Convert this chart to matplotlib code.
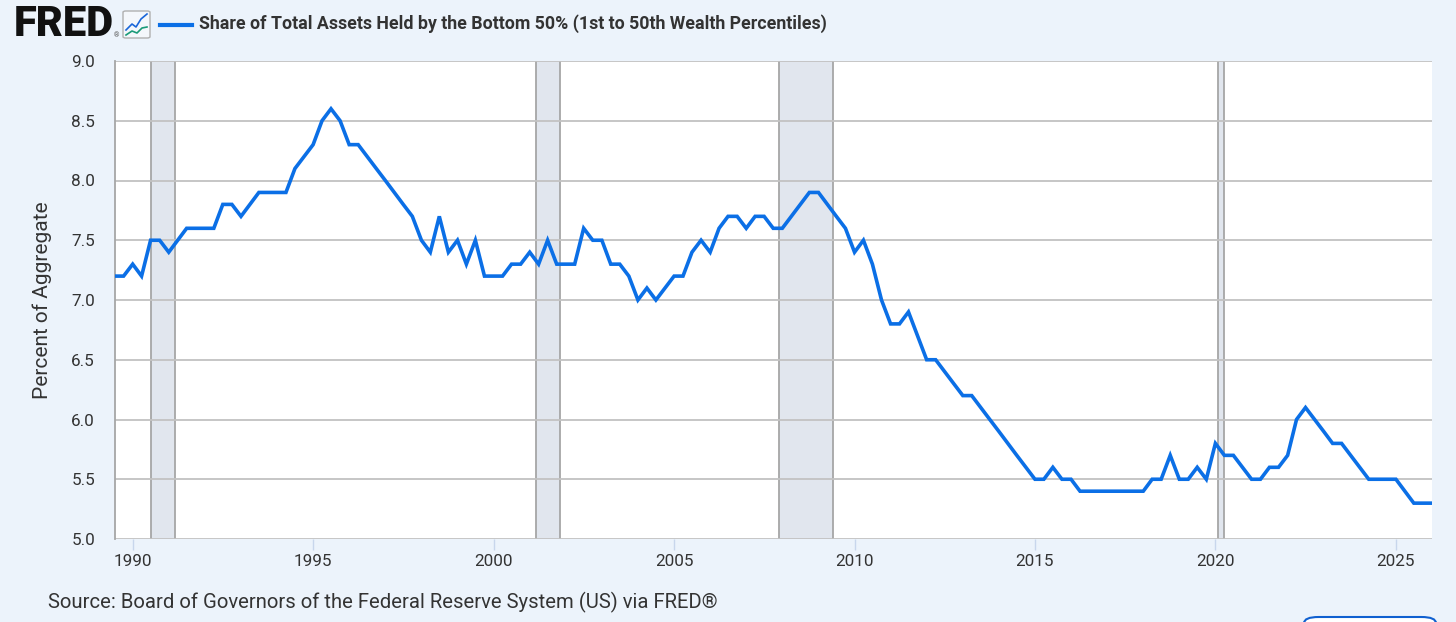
import numpy as np
import pandas as pd
import matplotlib as mpl
mpl.use("Agg")
import matplotlib.pyplot as plt
from matplotlib.patches import FancyBboxPatch
from matplotlib.lines import Line2D

# quarterly share of total assets, bottom 50%, starting 1989Q3
share = [7.2, 7.2,
         7.3, 7.2, 7.5, 7.5,   # 1990
         7.4, 7.5, 7.6, 7.6,
         7.6, 7.6, 7.8, 7.8,
         7.7, 7.8, 7.9, 7.9,
         7.9, 7.9, 8.1, 8.2,
         8.3, 8.5, 8.6, 8.5,   # 1995
         8.3, 8.3, 8.2, 8.1,
         8.0, 7.9, 7.8, 7.7,
         7.5, 7.4, 7.7, 7.4,
         7.5, 7.3, 7.5, 7.2,
         7.2, 7.2, 7.3, 7.3,   # 2000
         7.4, 7.3, 7.5, 7.3,
         7.3, 7.3, 7.6, 7.5,
         7.5, 7.3, 7.3, 7.2,
         7.0, 7.1, 7.0, 7.1,
         7.2, 7.2, 7.4, 7.5,   # 2005
         7.4, 7.6, 7.7, 7.7,
         7.6, 7.7, 7.7, 7.6,
         7.6, 7.7, 7.8, 7.9,
         7.9, 7.8, 7.7, 7.6,
         7.4, 7.5, 7.3, 7.0,   # 2010
         6.8, 6.8, 6.9, 6.7,
         6.5, 6.5, 6.4, 6.3,
         6.2, 6.2, 6.1, 6.0,
         5.9, 5.8, 5.7, 5.6,
         5.5, 5.5, 5.6, 5.5,   # 2015
         5.5, 5.4, 5.4, 5.4,
         5.4, 5.4, 5.4, 5.4,
         5.4, 5.5, 5.5, 5.7,
         5.5, 5.5, 5.6, 5.5,
         5.8, 5.7, 5.7, 5.6,   # 2020
         5.5, 5.5, 5.6, 5.6,
         5.7, 6.0, 6.1, 6.0,
         5.9, 5.8, 5.8, 5.7,
         5.6, 5.5, 5.5, 5.5,
         5.5, 5.4, 5.3, 5.3,   # 2025
         5.3]
first_quarter = "1989-07-01"

recessions = [("1990-07-01", "1991-03-01"),
              ("2001-03-01", "2001-11-01"),
              ("2007-12-01", "2009-06-01"),
              ("2020-02-01", "2020-04-01")]

y_ticks = [5.0, 5.5, 6.0, 6.5, 7.0, 7.5, 8.0, 8.5, 9.0]
x_years = [1990, 1995, 2000, 2005, 2010, 2015, 2020, 2025]

title = "Share of Total Assets Held by the Bottom 50% (1st to 50th Wealth Percentiles)"
source = "Source: Board of Governors of the Federal Reserve System (US) via FRED\u00ae"

BG = "#ecf3fb"
LINE = "#0b6fe6"
GRID = "#c2c2c2"
TXT = "#333333"

plt.rcParams["font.family"] = ["Roboto", "DejaVu Sans"]

dates = pd.date_range(first_quarter, periods=len(share), freq="QS")

fig = plt.figure(figsize=(14.56, 6.22), dpi=100, facecolor=BG)
ax = fig.add_axes([114.5 / 1456, 1 - 539 / 622, (1432 - 114.5) / 1456, (539 - 61) / 622])
ax.set_facecolor("white")

for a, b in recessions:
    a, b = pd.Timestamp(a), pd.Timestamp(b)
    ax.axvspan(a, b, color="#e1e6ee", lw=0, zorder=1)
    ax.axvline(a, color="#a6a6a6", lw=1.3, zorder=1.5)
    ax.axvline(b, color="#a6a6a6", lw=1.3, zorder=1.5)

for v in y_ticks:
    ax.axhline(v, color=GRID, lw=1.3, zorder=2)

ax.plot(dates, share, color=LINE, lw=2.6, solid_joinstyle="miter", zorder=3)

ax.set_xlim(dates[0], dates[-1])
ax.set_ylim(5.0, 9.0)
ax.set_yticks(y_ticks)
ax.set_yticklabels([f"{v:.1f}" for v in y_ticks])
ax.set_xticks([pd.Timestamp(f"{y}-01-01") for y in x_years])
ax.set_xticklabels([str(y) for y in x_years])

for s in ["top", "right", "bottom"]:
    ax.spines[s].set_visible(False)
ax.spines["left"].set_color("#a6a6a6")
ax.spines["left"].set_linewidth(1.3)
ax.tick_params(axis="y", length=0, pad=14, labelsize=12.3, labelcolor=TXT)
ax.tick_params(axis="x", length=8, width=1, color="#c8d6ec", pad=3,
               labelsize=12.3, labelcolor=TXT)
ax.set_ylabel("Percent of Aggregate", fontsize=15, color=TXT, labelpad=14)

# header: logo, icon, legend entry
fig.text(14 / 1456, 1 - 24 / 622, "FRED", fontsize=30, fontweight="black",
         color="#111111", va="center", ha="left")
fig.text(114 / 1456, 1 - 36 / 622, "\u00ae", fontsize=5, color="#555555",
         va="center", ha="left")
icon = FancyBboxPatch((123 / 1456, 1 - 38 / 622), 27 / 1456, 27 / 622,
                      boxstyle="round,pad=0,rounding_size=0.002",
                      transform=fig.transFigure, facecolor="#f4f7fb",
                      edgecolor="#b0b0b0", lw=1)
fig.patches.append(icon)
fig.lines.append(Line2D(np.array([126, 132, 136, 141, 147]) / 1456,
                        1 - np.array([30, 24, 27, 19, 14]) / 622,
                        transform=fig.transFigure, color="#1a66d9", lw=1.2))
fig.lines.append(Line2D(np.array([126, 132, 137, 142, 147]) / 1456,
                        1 - np.array([35, 31, 33, 28, 27]) / 622,
                        transform=fig.transFigure, color="#1a9a78", lw=1.2))
fig.lines.append(Line2D([160 / 1456, 192 / 1456], [1 - 25 / 622] * 2,
                        transform=fig.transFigure, color=LINE, lw=3))
fig.text(199 / 1456, 1 - 24 / 622, title, fontsize=12.8, fontweight="bold",
         color=TXT, va="center", ha="left")

fig.text(48 / 1456, 1 - 602 / 622, source, fontsize=14.6, color=TXT,
         va="center", ha="left")

button = FancyBboxPatch((1304 / 1456, -20 / 622), 132 / 1456, 25 / 622,
                        boxstyle="round,pad=0,rounding_size=0.01",
                        transform=fig.transFigure, facecolor="white",
                        edgecolor="#1060d0", lw=1.5, clip_on=False)
fig.patches.append(button)

fig.savefig("out.png", dpi=100, facecolor=BG)
